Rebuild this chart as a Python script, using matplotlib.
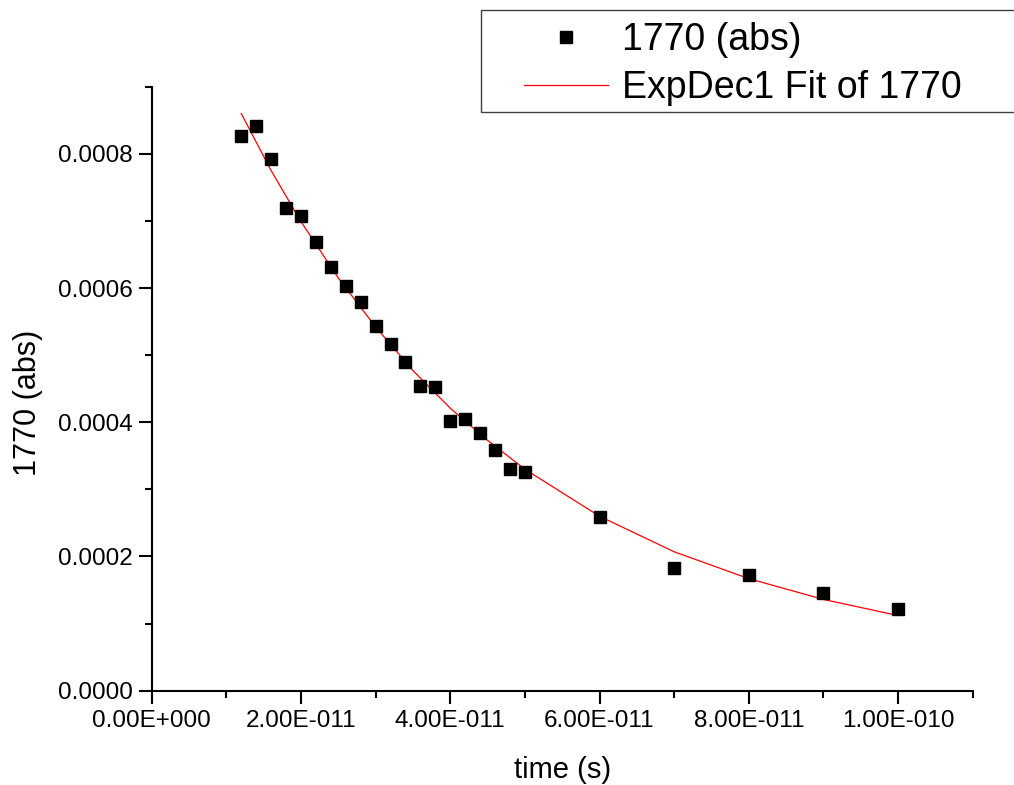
import numpy as np
import matplotlib
matplotlib.use("Agg")
import matplotlib.pyplot as plt
from matplotlib.ticker import FuncFormatter, FixedLocator
from matplotlib.patches import Rectangle

plt.rcParams['font.family'] = ['Liberation Sans', 'DejaVu Sans']

# measured points, 1770 (abs)
time_s = np.array([1.2, 1.4, 1.6, 1.8, 2.0, 2.2, 2.4, 2.6, 2.8, 3.0,
                   3.2, 3.4, 3.6, 3.8, 4.0, 4.2, 4.4, 4.6, 4.8, 5.0,
                   6.0, 7.0, 8.0, 9.0, 10.0]) * 1e-11
absorb = np.array([0.000826, 0.000841, 0.000793, 0.000719, 0.000708,
                   0.000668, 0.000632, 0.000603, 0.000579, 0.000543,
                   0.000516, 0.000490, 0.000454, 0.000452, 0.000402,
                   0.000405, 0.000384, 0.000358, 0.000330, 0.000326,
                   0.000259, 0.000183, 0.000173, 0.000145, 0.000121])

# ExpDec1 fit curve
fit_t = np.array([1.2, 1.6, 2.0, 2.5, 3.0, 3.5, 4.0, 4.5, 5.0,
                  6.0, 7.0, 8.0, 9.0, 10.0]) * 1e-11
fit_y = np.array([0.000860, 0.000775, 0.000699, 0.000615, 0.000542,
                  0.000477, 0.000421, 0.000373, 0.000330, 0.000260,
                  0.000207, 0.000167, 0.000136, 0.000112])

x_major = [0, 2e-11, 4e-11, 6e-11, 8e-11, 1e-10]
x_minor = [1e-11, 3e-11, 5e-11, 7e-11, 9e-11, 1.1e-10]
y_major = [0, 0.0002, 0.0004, 0.0006, 0.0008]
y_minor = [0.0001, 0.0003, 0.0005, 0.0007, 0.0009]


def sci_fmt(v, pos):
    if v == 0:
        return "0.00E+000"
    e = int(np.floor(np.log10(abs(v)) + 1e-9))
    m = v / 10 ** e
    return "%.2fE%s%03d" % (m, "+" if e >= 0 else "-", abs(e))


fig = plt.figure(figsize=(10.14, 7.85), dpi=100)
ax = fig.add_axes([151.7 / 1014, 1 - 690.7 / 785, 821 / 1014, 604 / 785])

pts, = ax.plot(time_s, absorb, ls="none", marker="s", ms=8.5,
               mfc="black", mec="black", mew=1, label="1770 (abs)", zorder=3)
fit, = ax.plot(fit_t, fit_y, color="red", lw=0.9,
               label="ExpDec1 Fit of 1770", zorder=2)

ax.set_xlim(0, 1.1e-10)
ax.set_ylim(0, 0.0009)
ax.xaxis.set_major_locator(FixedLocator(x_major))
ax.xaxis.set_minor_locator(FixedLocator(x_minor))
ax.yaxis.set_major_locator(FixedLocator(y_major))
ax.yaxis.set_minor_locator(FixedLocator(y_minor))
ax.xaxis.set_major_formatter(FuncFormatter(sci_fmt))
ax.yaxis.set_major_formatter(FuncFormatter(lambda v, p: "%.4f" % v))

for s in ("top", "right"):
    ax.spines[s].set_visible(False)
for s in ("left", "bottom"):
    ax.spines[s].set_linewidth(1.5)
ax.tick_params(which="major", length=9.5, width=1.5, labelsize=17.5)
ax.tick_params(which="minor", length=5, width=1.5)
ax.tick_params(axis="x", which="major", pad=4.5)
ax.tick_params(axis="y", which="major", pad=4)

ax.set_xlabel("time (s)", fontsize=21, labelpad=17.5)
ax.set_ylabel("1770 (abs)", fontsize=22, labelpad=11)
ax.yaxis.label.set_y(0.476)

# legend (frame drawn separately so it can run off the right edge)
leg = fig.legend(handles=[pts, fit], loc="upper left",
                 bbox_to_anchor=(524 / 1014, 1 - 22.5 / 785),
                 frameon=False, fontsize=27, borderpad=0, borderaxespad=0,
                 handlelength=2.24, handletextpad=0.37, labelspacing=0.30)
fig.add_artist(Rectangle((481 / 1014, 1 - 112 / 785), 540 / 1014, 102 / 785,
                         transform=fig.transFigure, fill=False,
                         edgecolor="#404040", lw=1, clip_on=False))

fig.savefig("out.png", dpi=100)
